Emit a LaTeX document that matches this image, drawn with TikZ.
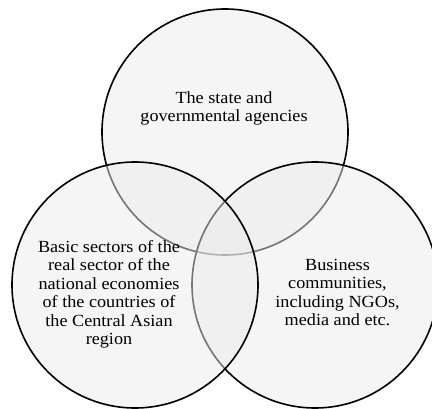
\documentclass[tikz,border=0pt]{standalone}
\usepackage{fontspec}
\setmainfont[FakeStretch=1.07]{Liberation Serif}
\definecolor{vennfill}{RGB}{235,235,235}
\begin{document}
\begin{tikzpicture}[x=1pt,y=-1pt,
  venn/.style={draw=black,line width=1.6pt,fill=vennfill,fill opacity=0.5},
  lbl/.style={align=center,inner sep=0pt,font=\fontsize{17}{18.4}\selectfont,text=black}]
\useasboundingbox (0,0) rectangle (432,409);
\begin{scope}
\clip (0,0) rectangle (432,409);
\path[venn] (225,132) circle[radius=123];
\path[venn] (315,285) circle[radius=123];
\path[venn] (135,285) circle[radius=123];
\end{scope}
\node[lbl] (state) at (224,108.7) {The state and\\governmental agencies};
\node[lbl] (basic) at (109,294.3) {Basic sectors of the\\real sector of the\\national economies\\of the countries of\\the Central Asian\\region};
\node[lbl] (business) at (337.5,292.5) {Business\\communities,\\including NGOs,\\media and etc.};
\end{tikzpicture}
\end{document}
